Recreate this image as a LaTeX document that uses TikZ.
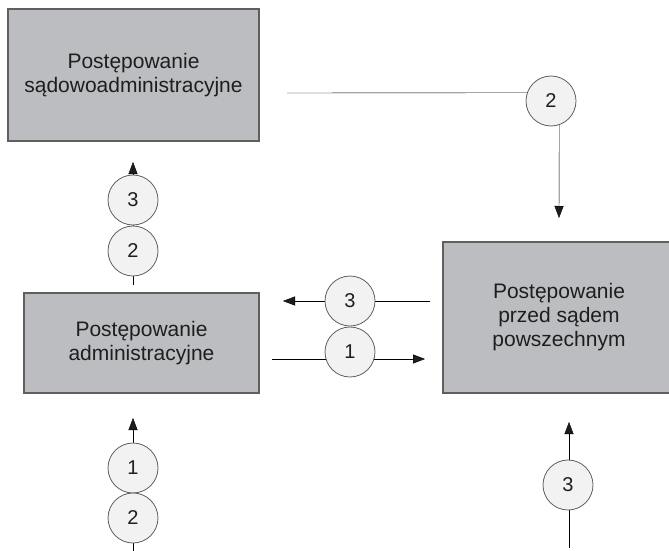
\documentclass[tikz,border=0pt]{standalone}
\usepackage{fontspec}
\setmainfont{Liberation Sans}
\usetikzlibrary{arrows.meta,backgrounds}
\definecolor{boxgray}{RGB}{187,189,192}
\definecolor{ballgray}{RGB}{242,242,242}
\definecolor{edgegray}{RGB}{95,95,95}
\definecolor{inkgray}{RGB}{30,30,30}

\begin{document}
\begin{tikzpicture}[x=1pt,y=-1pt,>={Triangle[length=12pt,width=9pt]},line width=1pt]
\tikzstyle{stage}=[draw=edgegray,line width=1.5pt,fill=boxgray,align=center,text=inkgray,font=\fontsize{21}{24}\selectfont,inner sep=0pt];
\tikzstyle{ball}=[draw=edgegray,line width=0.8pt,fill=ballgray,circle,minimum size=50pt,inner sep=0pt,text=inkgray,font=\fontsize{20}{24}\selectfont];
\useasboundingbox (0,0) rectangle (669,551);
% boxes
    \node[stage,minimum width=251pt,minimum height=132pt] (sad) at (133.5,75) {Postępowanie\\sądowoadministracyjne};
    \node[stage,minimum width=235pt,minimum height=100pt] (adm) at (141.5,343) {Postępowanie\\administracyjne};
    \node[stage,minimum width=232pt,minimum height=151pt] (pow) at (559,317.5) {Postępowanie\\przed sądem\\powszechnym};
% numbered circles
    \node[ball] (c2top) at (551,101) {2};
    \node[ball] (c3l) at (133,200) {3};
    \node[ball] (c2l) at (133,251) {2};
    \node[ball] (c3m) at (350,301) {3};
    \node[ball] (c1m) at (350,352) {1};
    \node[ball] (c1b) at (133,468) {1};
    \node[ball] (c2b) at (133,518) {2};
    \node[ball] (c3r) at (568,485) {3};
% free ends
    \coordinate (s2) at (287,93);
    \coordinate (t2) at (559,218);
    \coordinate (lt) at (133,162);
    \coordinate (lb) at (133,285);
    \coordinate (mr) at (430,301);
    \coordinate (ml) at (283,301);
    \coordinate (nl) at (272,359);
    \coordinate (nr) at (425,359);
    \coordinate (bt) at (133,418);
    \coordinate (bb) at (133,551);
    \coordinate (rt) at (569,422);
    \coordinate (rb) at (569,548);
% edges
\begin{scope}[on background layer,draw=inkgray]
    \draw (s2) -- (c2top.161);
    \draw[->] (c2top.-71) -- (t2);
    \draw[->] (lb) -- (lt);
    \draw[->] (mr) -- (ml);
    \draw[->] (nl) -- (nr);
    \draw[->] (bb) -- (bt);
    \draw[->] (rb) -- (rt);
\end{scope}
\end{tikzpicture}
\end{document}
